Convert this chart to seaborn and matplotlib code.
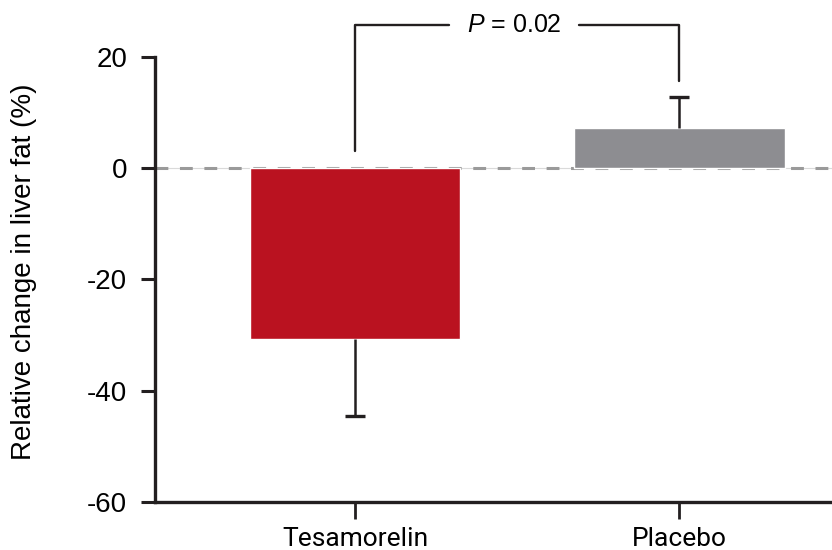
import matplotlib
matplotlib.use("Agg")
import matplotlib.pyplot as plt
import numpy as np
import pandas as pd
import seaborn as sns

# values
groups = ["Tesamorelin", "Placebo"]
mean_change = [-30.8, 7.1]
sem = [13.8, 5.6]
bar_colors = ["#BA1220", "#8D8D91"]
y_ticks = [-60, -40, -20, 0, 20]
p_label = "= 0.02"

INK = "#231F20"

sns.set_theme(style="white")
plt.rcParams["font.family"] = ["Liberation Sans", "DejaVu Sans"]
plt.rcParams["mathtext.fontset"] = "custom"
plt.rcParams["mathtext.rm"] = "Liberation Sans"
plt.rcParams["mathtext.it"] = "Liberation Sans:italic"

df = pd.DataFrame({"group": groups, "change": mean_change})

fig = plt.figure(figsize=(8.32, 5.5), dpi=100)
ax = fig.add_axes([0.1863, 0.0873, 0.8137, 0.8097])

ax.axhline(0, color="#DADADA", lw=0.8, zorder=0)
ax.axhline(0, color="#9A9A9A", lw=2.2, ls=(0, (4.2, 3.8)), zorder=0.5)

sns.barplot(data=df, x="group", y="change", hue="group", palette=bar_colors,
            width=0.65, legend=False, saturation=1, errorbar=None, ax=ax,
            zorder=2)

# one-sided error bars (downwards for loss, upwards for gain), cap only at the tip
xpos = np.arange(len(groups))
lower = [s if m < 0 else 0 for m, s in zip(mean_change, sem)]
upper = [s if m > 0 else 0 for m, s in zip(mean_change, sem)]
tips = [m - s if m < 0 else m + s for m, s in zip(mean_change, sem)]
ax.errorbar(xpos, mean_change, yerr=[lower, upper], fmt="none", ecolor=INK,
            elinewidth=1.8, capsize=0, zorder=3)
ax.plot(xpos, tips, ls="none", marker="_", ms=14, mew=2.4, color=INK, zorder=3)

ax.set_xlim(-0.617, 1.471)
ax.set_ylim(-60, 20)
ax.set_yticks(y_ticks)
ax.set_yticklabels([str(t) for t in y_ticks], fontsize=20)
ax.set_xticks(xpos)
ax.set_xticklabels(groups, fontsize=19, family=["Roboto", "DejaVu Sans"])
ax.set_xlabel("")
ax.set_ylabel("Relative change in liver fat (%)", fontsize=20, color="black")
ax.yaxis.set_label_coords(-0.174, 0.516)

for side in ["top", "right"]:
    ax.spines[side].set_visible(False)
for side in ["left", "bottom"]:
    ax.spines[side].set_color(INK)
    ax.spines[side].set_linewidth(2.4)
ax.tick_params(axis="y", direction="out", length=10, width=2.2, color=INK,
               left=True, pad=10, labelcolor="black")
ax.tick_params(axis="x", direction="out", length=12, width=2.0, color=INK,
               bottom=True, pad=6, labelcolor="black")

# significance bracket
top = 25.7
kw = dict(color=INK, lw=1.7, clip_on=False, zorder=4)
ax.plot([0, 0, 0.29], [3.0, top, top], **kw)
ax.plot([0.69, 1.0, 1.0], [top, top, 15.6], **kw)
ax.text(0.49, top, r"$P$ " + p_label, ha="center", va="center",
        fontsize=18, color="black", clip_on=False)

fig.savefig("out.png", dpi=100)
